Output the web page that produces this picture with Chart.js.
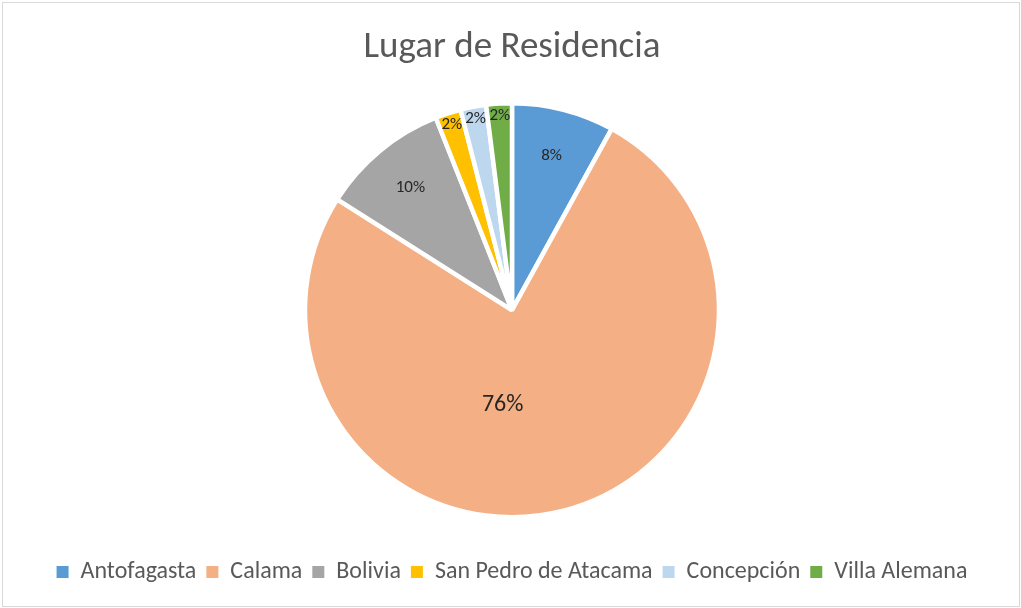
<!DOCTYPE html>
<html>
<head>
<meta charset="utf-8">
<script src="https://cdn.jsdelivr.net/npm/chart.js@4.4.1/dist/chart.umd.min.js"></script>
<style>
  html, body { margin: 0; padding: 0; background: #fff; }
  #wrap { position: relative; width: 1021px; height: 608px; }
  #frame { position: absolute; left: 2px; top: 2px; width: 1016px; height: 603px; border: 1px solid #d9d9d9; pointer-events: none; }
</style>
</head>
<body>
<div id="wrap">
  <canvas id="pieChart" width="1021" height="608"></canvas>
  <div id="frame"></div>
</div>
<script>
// Data
const categories = ['Antofagasta', 'Calama', 'Bolivia', 'San Pedro de Atacama', 'Concepción', 'Villa Alemana'];
const counts = [4, 38, 5, 1, 1, 1];
const sliceColors = ['#5b9bd5', '#f4b084', '#a5a5a5', '#ffc000', '#bdd7ee', '#70ad47'];

const FONT = 'Carlito, Calibri, Lato, sans-serif';

// Percent labels drawn on the slices
const pctLabels = {
  id: 'pctLabels',
  afterDatasetsDraw(chart) {
    const ctx = chart.ctx;
    const meta = chart.getDatasetMeta(0);
    const data = chart.data.datasets[0].data;
    const total = data.reduce((a, b) => a + b, 0);
    meta.data.forEach((arc, i) => {
      const frac = data[i] / total;
      let mid = (arc.startAngle + arc.endAngle) / 2;
      let r = arc.outerRadius * 0.77;
      let size = 17;
      if (frac > 0.5) { r = arc.outerRadius * 0.46; size = 24; mid += 0.35; }
      else if (frac < 0.05) { r = arc.outerRadius * 0.94; }
      const x = arc.x + Math.cos(mid) * r;
      const y = arc.y + Math.sin(mid) * r;
      ctx.save();
      ctx.font = size + 'px ' + FONT;
      ctx.fillStyle = '#262626';
      ctx.textAlign = 'center';
      ctx.textBaseline = 'middle';
      ctx.fillText(Math.round(frac * 100) + '%', x, y);
      ctx.restore();
    });
  }
};

// legend squares without the white slice border
const defaultLabels = Chart.overrides.pie.plugins.legend.labels.generateLabels;

const ctx = document.getElementById('pieChart').getContext('2d');

const pieChart = new Chart(ctx, {
  type: 'pie',
  data: {
    labels: categories,
    datasets: [{
      data: counts,
      backgroundColor: sliceColors,
      borderColor: '#ffffff',
      borderWidth: 4.5,
      radius: 207
    }]
  },
  options: {
    responsive: false,
    animation: false,
    layout: {
      padding: { left: 3, right: 0, top: 0, bottom: 14 }
    },
    plugins: {
      title: {
        display: true,
        text: 'Lugar de Residencia',
        color: '#595959',
        font: { family: FONT, size: 37, weight: 'normal' },
        padding: { top: 26, bottom: 0 }
      },
      legend: {
        position: 'bottom',
        labels: {
          color: '#595959',
          font: { family: FONT, size: 24 },
          boxWidth: 12,
          boxHeight: 12,
          padding: 10,
          generateLabels: function (chart) {
            return defaultLabels(chart).map(item => {
              item.lineWidth = 0;
              item.strokeStyle = item.fillStyle;
              return item;
            });
          }
        }
      },
      tooltip: { enabled: false }
    }
  },
  plugins: [pctLabels]
});
</script>
</body>
</html>
